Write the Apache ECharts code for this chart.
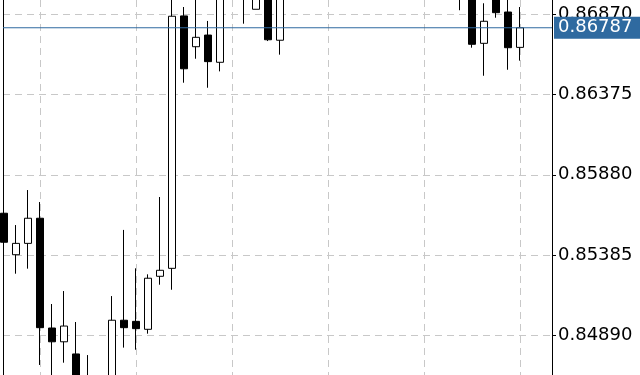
<!DOCTYPE html>
<html>
<head>
<meta charset="utf-8">
<script src="https://cdn.jsdelivr.net/npm/echarts@6/dist/echarts.min.js"></script>
<style>html,body{margin:0;padding:0;background:#fff;}#c{width:640px;height:375px;}</style>
</head>
<body>
<div id="c"></div>
<script>
// Bar index (position along the time axis)
var bars = [0,1,2,3,4,5,6,7,8,9,10,11,12,13,14,15,16,17,18,19,20,21,22,23,24,25,26,27,28,29,30,31,32,33,34,35,36,37,38,39,40,41,42,43];
var opens = [0.85643,0.85387,0.85457,0.85612,0.84935,0.84850,0.84775,0.84550,0.84500,0.84570,0.84983,0.84976,0.84927,0.85254,0.85303,0.86860,0.86670,0.86742,0.86574,0.87050,0.87120,0.86901,0.87080,0.86710,0.87050,0.87180,0.87260,0.87150,0.87320,0.87410,0.87290,0.87360,0.87250,0.87170,0.87220,0.87130,0.87070,0.87120,0.87040,0.87010,0.86691,0.87000,0.86884,0.86666];
var closes = [0.85464,0.85457,0.85612,0.84937,0.84850,0.84947,0.84550,0.84600,0.84580,0.84983,0.84937,0.84931,0.85242,0.85291,0.86858,0.86534,0.86728,0.86578,0.87050,0.87120,0.87020,0.87100,0.86713,0.87050,0.87180,0.87260,0.87150,0.87320,0.87410,0.87290,0.87360,0.87250,0.87170,0.87220,0.87130,0.87070,0.87120,0.87040,0.87010,0.86685,0.86827,0.86880,0.86664,0.86787];
var lows = [0.85311,0.85270,0.85301,0.84707,0.84600,0.84721,0.84500,0.84480,0.84400,0.84520,0.84814,0.84801,0.84900,0.85202,0.85171,0.86448,0.86596,0.86417,0.86518,0.87000,0.86812,0.86901,0.86705,0.86621,0.87010,0.87120,0.87090,0.87100,0.87270,0.87240,0.87230,0.87180,0.87110,0.87080,0.87060,0.87010,0.87000,0.86990,0.86895,0.86664,0.86491,0.86849,0.86528,0.86584];
var highs = [0.85737,0.85570,0.85786,0.85712,0.85083,0.85163,0.84972,0.84768,0.84620,0.85132,0.85540,0.85303,0.85266,0.85743,0.87000,0.86915,0.86985,0.86829,0.87120,0.87200,0.87220,0.87150,0.87120,0.87090,0.87220,0.87310,0.87300,0.87380,0.87460,0.87450,0.87400,0.87390,0.87290,0.87270,0.87250,0.87160,0.87150,0.87140,0.87080,0.87050,0.86938,0.87040,0.86965,0.86915];
var priceTicks = [0.84890,0.85385,0.85880,0.86375,0.86870];
var timeGridBars = [3,11,19,27,35,43];
var lastPrice = closes[closes.length - 1];

var ohlc = bars.map(function (b, i) { return [b, opens[i], closes[i], lows[i], highs[i]]; });

var chart = echarts.init(document.getElementById('c'), null, {renderer: 'canvas'});
var gridDash = [7, 5];
var yMin = 0.846451, yMax = 0.869582;
var xMin = -1 / 12, xMax = 45.6667;
chart.setOption({
  animation: false,
  backgroundColor: '#ffffff',
  grid: {left: 3, right: 88, top: 0, bottom: 0, show: false},
  xAxis: {
    type: 'value',
    min: xMin,
    max: xMax,
    axisLine: {show: false},
    axisTick: {show: false, customValues: timeGridBars},
    axisLabel: {show: false},
    splitLine: {show: true, lineStyle: {color: '#c8c8c8', type: gridDash, width: 1}}
  },
  yAxis: [{
    type: 'value',
    position: 'right',
    min: yMin,
    max: yMax,
    axisLine: {show: true, onZero: false, lineStyle: {color: '#000', width: 1}},
    axisTick: {show: true, inside: false, length: 4, customValues: priceTicks, lineStyle: {color: '#000'}},
    axisLabel: {
      show: true, margin: 6, customValues: priceTicks, color: '#000',
      fontFamily: 'DejaVu Sans', fontSize: 18,
      formatter: function (v) { return v.toFixed(5); }
    },
    splitLine: {show: true, lineStyle: {color: '#c8c8c8', type: gridDash, width: 1}}
  }, {
    type: 'value',
    position: 'left',
    min: yMin,
    max: yMax,
    axisLine: {show: true, onZero: false, lineStyle: {color: '#000', width: 1}},
    axisTick: {show: false},
    axisLabel: {show: false},
    splitLine: {show: false}
  }],
  series: [{
    type: 'candlestick',
    data: ohlc,
    encode: {x: 0, y: [1, 2, 3, 4]},
    barWidth: 8,
    itemStyle: {
      color: '#ffffff', borderColor: '#000000',
      color0: '#000000', borderColor0: '#000000',
      borderWidth: 1
    }
  }, {
    type: 'line',
    data: [[xMin, lastPrice], [xMax, lastPrice]],
    showSymbol: false,
    symbol: 'none',
    silent: true,
    clip: false,
    z: 5,
    lineStyle: {color: '#2f6aa0', width: 1, type: 'solid'},
    endLabel: {
      show: true,
      distance: 2,
      formatter: function () { return lastPrice.toFixed(5); },
      color: '#ffffff', backgroundColor: '#2f6aa0',
      fontFamily: 'DejaVu Sans', fontSize: 18,
      padding: [2, 12, 2, 4]
    }
  }]
});
</script>
</body>
</html>
